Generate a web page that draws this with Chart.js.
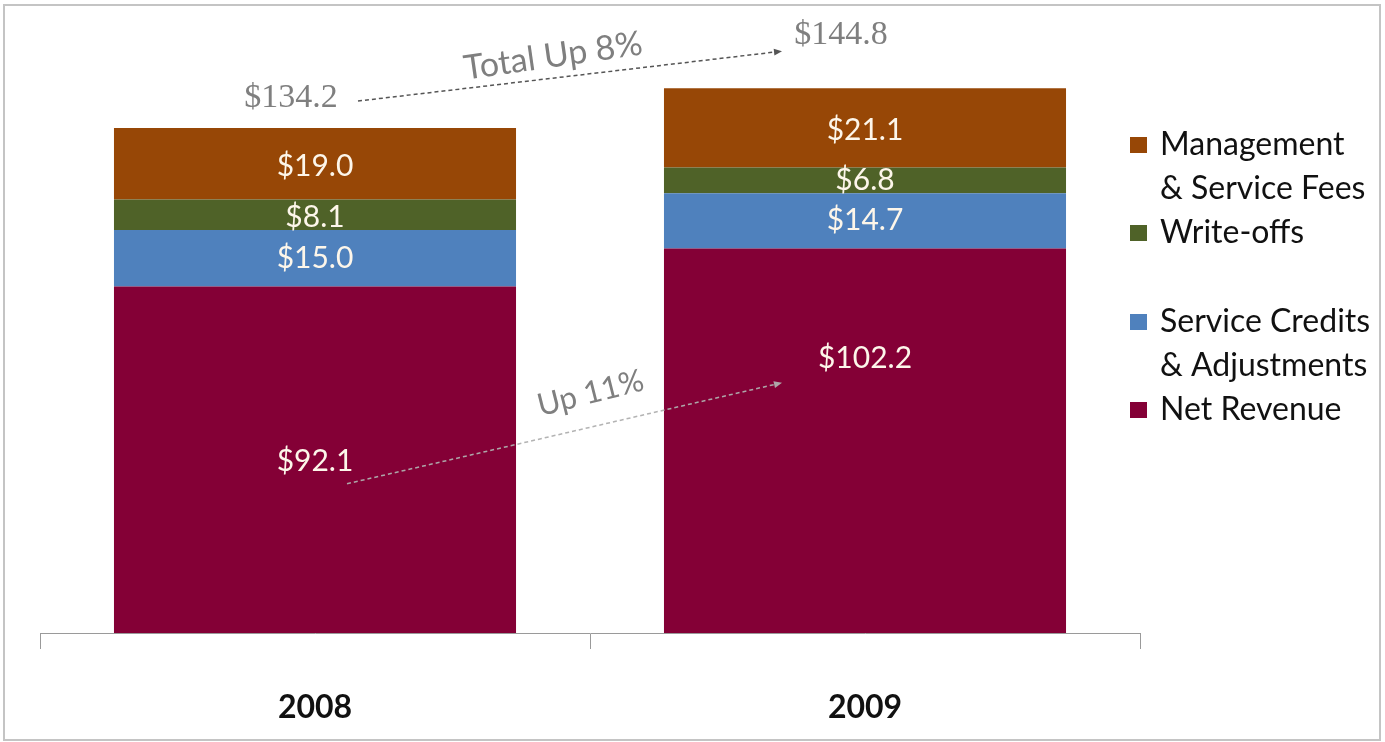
<!DOCTYPE html>
<html>
<head>
<meta charset="utf-8">
<title>Revenue 2008 vs 2009</title>
<script src="https://cdn.jsdelivr.net/npm/chart.js@4.4.1/dist/chart.umd.min.js"></script>
<style>
  html, body { margin: 0; padding: 0; background: #fff; }
  #wrap { position: relative; width: 1385px; height: 742px; }
  #frame { position: absolute; left: 3px; top: 4px; width: 1374px; height: 733px; border: 2px solid #c4c4c4; pointer-events: none; }
  canvas { position: absolute; left: 0; top: 0; }
</style>
</head>
<body>
<div id="wrap">
  <canvas id="chart" width="1385" height="742"></canvas>
  <div id="frame"></div>
</div>
<script>
// ---- data ----
const years = ['2008', '2009'];
const netRevenue = [92.1, 102.2];
const serviceCredits = [15.0, 14.7];
const writeOffs = [8.1, 6.8];
const mgmtFees = [19.0, 21.1];
const totals = [134.2, 144.8];

const seriesNames = ['Net Revenue', 'Service Credits & Adjustments', 'Write-offs', 'Management & Service Fees'];
const seriesColors = ['#840036', '#4f81bd', '#4f6228', '#974706'];

// legend text, top to bottom, split the way the slide wraps it
const legendItems = [
  { series: 3, lines: ['Management', '& Service Fees'] },
  { series: 2, lines: ['Write-offs'] },
  { series: 1, lines: ['Service Credits', '& Adjustments'], gapBefore: true },
  { series: 0, lines: ['Net Revenue'] }
];

const totalChangeText = 'Total Up 8%';
const netChangeText = 'Up 11%';

const SANS = 'Lato, "Open Sans", sans-serif';
const SERIF = '"Liberation Serif", "DejaVu Serif", serif';

function money(v) { return '$' + Number(v).toFixed(1); }

/* ---------------------------
   Plugins
   --------------------------- */

// value labels in the middle of every segment
const segmentLabels = {
  id: 'segmentLabels',
  afterDatasetsDraw(chart, args, opts) {
    const ctx = chart.ctx;
    ctx.save();
    ctx.font = opts.font;
    ctx.fillStyle = opts.color;
    ctx.textAlign = 'center';
    ctx.textBaseline = 'middle';
    chart.data.datasets.forEach((ds, di) => {
      const meta = chart.getDatasetMeta(di);
      meta.data.forEach((bar, i) => {
        const shift = (opts.shift[di] && opts.shift[di][i]) || 0;
        const y = (bar.y + bar.base) / 2 + shift;
        ctx.fillText(money(ds.data[i]), bar.x, y);
      });
    });
    ctx.restore();
  }
};

function dashedArrow(ctx, x1, y1, x2, y2, color, dash) {
  const ang = Math.atan2(y2 - y1, x2 - x1);
  ctx.save();
  ctx.strokeStyle = color;
  ctx.fillStyle = color;
  ctx.lineWidth = 1.5;
  ctx.setLineDash(dash);
  ctx.beginPath();
  ctx.moveTo(x1, y1);
  ctx.lineTo(x2 - 6 * Math.cos(ang), y2 - 6 * Math.sin(ang));
  ctx.stroke();
  ctx.setLineDash([]);
  // small head
  ctx.translate(x2, y2);
  ctx.rotate(ang);
  ctx.beginPath();
  ctx.moveTo(0, 0);
  ctx.lineTo(-8, -3.5);
  ctx.lineTo(-8, 3.5);
  ctx.closePath();
  ctx.fill();
  ctx.restore();
}

function slantText(ctx, text, x, y, ang, font, color) {
  ctx.save();
  ctx.translate(x, y);
  ctx.rotate(ang);
  ctx.font = font;
  ctx.fillStyle = color;
  ctx.textAlign = 'center';
  ctx.textBaseline = 'middle';
  ctx.fillText(text, 0, 0);
  ctx.restore();
}

// totals above the bars and the two "up" arrows
const changeNotes = {
  id: 'changeNotes',
  afterDraw(chart, args, opts) {
    const ctx = chart.ctx;
    const xs = chart.scales.x, ys = chart.scales.y;
    const cx = [0, 1].map(i => xs.getPixelForValue(i));
    const top = totals.map(t => ys.getPixelForValue(t));

    // total values
    ctx.save();
    ctx.font = '34px ' + SERIF;
    ctx.fillStyle = '#7f7f7f';
    ctx.textAlign = 'center';
    ctx.textBaseline = 'middle';
    ctx.fillText(money(totals[0]), cx[0] - 24, top[0] - 30);
    ctx.fillText(money(totals[1]), cx[1] - 24, top[1] - 53);
    ctx.restore();

    // total arrow
    const a = { x1: cx[0] + 43, y1: top[0] - 27, x2: cx[1] - 83, y2: top[1] - 37 };
    dashedArrow(ctx, a.x1, a.y1, a.x2, a.y2, '#555', [4, 3]);
    const angA = Math.atan2(a.y2 - a.y1, a.x2 - a.x1) - 0.025;
    slantText(ctx, totalChangeText, (a.x1 + a.x2) / 2 - 17, (a.y1 + a.y2) / 2 - 20, angA, '34px ' + SANS, '#7f7f7f');

    // net revenue arrow, anchored on the in-bar labels
    const m0 = chart.getDatasetMeta(0).data;
    const l0y = (m0[0].y + m0[0].base) / 2;
    const l1y = (m0[1].y + m0[1].base) / 2 + opts.netShift;
    const b = { x1: cx[0] + 32, y1: l0y + 24, x2: cx[1] - 83, y2: l1y + 24 };
    dashedArrow(ctx, b.x1, b.y1, b.x2, b.y2, 'rgba(175,175,175,0.95)', [4, 3]);
    const angB = Math.atan2(b.y2 - b.y1, b.x2 - b.x1) - 0.02;
    slantText(ctx, netChangeText, (b.x1 + b.x2) / 2 + 26, (b.y1 + b.y2) / 2 - 40, angB, '31px ' + SANS, '#7f7f7f');
  }
};

// legend on the right with wrapped names
const sideLegend = {
  id: 'sideLegend',
  afterDraw(chart, args, opts) {
    const ctx = chart.ctx;
    const left = chart.chartArea.right - 10;
    let y = opts.top;
    ctx.save();
    ctx.font = opts.font;
    ctx.textBaseline = 'middle';
    ctx.textAlign = 'left';
    legendItems.forEach(item => {
      if (item.gapBefore) y += opts.gap;
      ctx.fillStyle = seriesColors[item.series];
      ctx.fillRect(left, y - 8, 17, 16);
      ctx.fillStyle = '#111';
      item.lines.forEach(line => {
        ctx.fillText(line, left + 30, y);
        y += opts.lineHeight;
      });
    });
    ctx.restore();
  }
};

/* ---------------------------
   Chart
   --------------------------- */

const seriesData = [netRevenue, serviceCredits, writeOffs, mgmtFees];

const datasets = seriesData.map((data, i) => ({
  label: seriesNames[i],
  data: data,
  backgroundColor: seriesColors[i],
  borderWidth: 0,
  barPercentage: 0.731,
  categoryPercentage: 1
}));

new Chart(document.getElementById('chart'), {
  type: 'bar',
  data: { labels: years, datasets },
  plugins: [segmentLabels, changeNotes, sideLegend],
  options: {
    responsive: false,
    animation: false,
    layout: { padding: { top: 31, left: 40, right: 245, bottom: 0 } },
    plugins: {
      legend: { display: false },
      tooltip: { enabled: false },
      segmentLabels: {
        font: '30px ' + SANS,
        color: '#fdf6ea',
        shift: { 0: [2, -82], 3: [3, 2], 2: [3, 0] }
      },
      changeNotes: { netShift: -82 },
      sideLegend: { font: '32px ' + SANS, top: 145, lineHeight: 44, gap: 45 }
    },
    scales: {
      x: {
        stacked: true,
        offset: true,
        grid: { display: true, drawOnChartArea: false, drawTicks: true, tickLength: 16, color: '#9a9a9a', offset: true },
        border: { display: true, color: '#9a9a9a', width: 1 },
        ticks: { color: '#111', font: { family: SANS, size: 32, weight: 'bold' }, padding: 39 },
        afterFit: scale => { scale.height = 109; }
      },
      y: {
        stacked: true,
        display: false,
        min: 0,
        max: 160
      }
    }
  }
});
</script>
</body>
</html>
